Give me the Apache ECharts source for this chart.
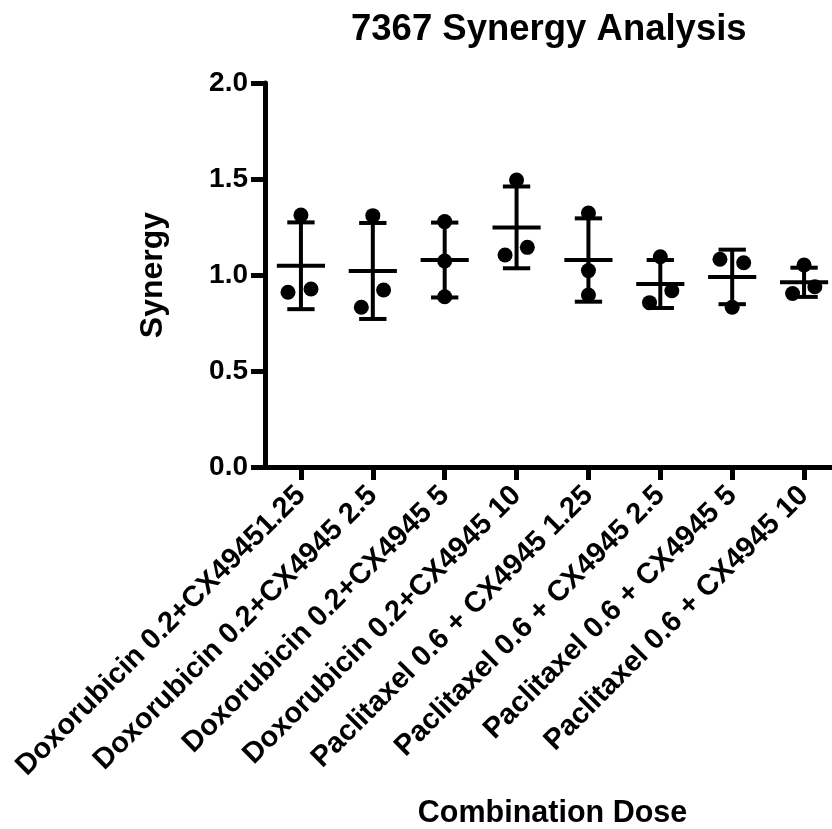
<!DOCTYPE html>
<html><head><meta charset="utf-8">
<script src="https://cdn.jsdelivr.net/npm/echarts@6/dist/echarts.min.js"></script>
<style>html,body{margin:0;padding:0;background:#fff}#c{width:832px;height:829px}</style>
</head><body><div id="c"></div>
<script>
// ---- data ----
const categories = [
  'Doxorubicin 0.2+CX49451.25',
  'Doxorubicin 0.2+CX4945 2.5',
  'Doxorubicin 0.2+CX4945 5',
  'Doxorubicin 0.2+CX4945 10',
  'Paclitaxel 0.6 + CX4945 1.25',
  'Paclitaxel 0.6 + CX4945 2.5',
  'Paclitaxel 0.6 + CX4945 5',
  'Paclitaxel 0.6 + CX4945 10'
];
// three replicate measurements per combination
const replicateA = [1.312, 1.309, 1.278, 1.495, 1.323, 1.095, 0.832, 1.052];
const replicateB = [0.910, 0.832, 1.073, 1.104, 1.023, 0.856, 1.082, 0.904];
const replicateC = [0.927, 0.922, 0.887, 1.144, 0.896, 0.918, 1.064, 0.939];
// horizontal scatter of the replicate dots (fraction of category width)
const jitterA = [0, 0, 0, 0, 0, 0, 0, 0];
const jitterB = [-0.18, -0.16, 0, -0.16, 0, -0.15, -0.17, -0.16];
const jitterC = [0.14, 0.15, 0, 0.15, 0, 0.16, 0.16, 0.15];
// mean and standard deviation shown by the bars
const means = [1.048, 1.021, 1.078, 1.248, 1.078, 0.953, 0.990, 0.962];
const sds   = [0.226, 0.250, 0.195, 0.213, 0.217, 0.125, 0.142, 0.076];
const yTicks = [0, 0.5, 1.0, 1.5, 2.0];

const FONT = '"Liberation Sans", Arial, sans-serif';

const dotData = [];
categories.forEach((c, i) => {
  dotData.push([i, replicateA[i], jitterA[i]]);
  dotData.push([i, replicateB[i], jitterB[i]]);
  dotData.push([i, replicateC[i], jitterC[i]]);
});
const barData = categories.map((c, i) => [i, means[i], sds[i]]);

const chart = echarts.init(document.getElementById('c'), null, {renderer: 'canvas'});
chart.setOption({
  animation: false,
  backgroundColor: '#fff',
  title: {
    text: '7367 Synergy Analysis',
    left: 346, top: 6,
    textStyle: {fontFamily: FONT, fontWeight: 'bold', fontSize: 36.5, color: '#000'}
  },
  grid: {left: 265, top: 83, width: 575, height: 384, containLabel: false, outerBoundsMode: 'none'},
  xAxis: {
    type: 'category',
    data: categories,
    boundaryGap: true,
    name: 'Combination Dose',
    nameLocation: 'middle',
    nameGap: 331,
    nameTextStyle: {fontFamily: FONT, fontWeight: 'bold', fontSize: 30.5, color: '#000'},
    axisLine: {show: true, lineStyle: {color: '#000', width: 5}},
    axisTick: {show: true, alignWithLabel: true, length: 13, lineStyle: {color: '#000', width: 5}},
    axisLabel: {
      interval: 0, rotate: 45, margin: 24,
      fontFamily: FONT, fontWeight: 'bold', fontSize: 29, color: '#000'
    },
    splitLine: {show: false}
  },
  yAxis: {
    type: 'value',
    min: yTicks[0], max: yTicks[yTicks.length - 1], interval: 0.5,
    name: 'Synergy',
    nameLocation: 'middle',
    nameRotate: 90,
    nameGap: 96,
    nameTextStyle: {fontFamily: FONT, fontWeight: 'bold', fontSize: 32, color: '#000'},
    axisLine: {show: true, onZero: false, lineStyle: {color: '#000', width: 5}},
    axisTick: {show: true, length: 14, lineStyle: {color: '#000', width: 5}},
    axisLabel: {
      margin: 17,
      formatter: v => v.toFixed(1),
      fontFamily: FONT, fontWeight: 'bold', fontSize: 28, color: '#000'
    },
    splitLine: {show: false}
  },
  series: [
    {
      type: 'custom',
      name: 'Mean ± SD',
      data: barData,
      clip: false,
      z: 3,
      renderItem(params, api) {
        const x = api.value(0), m = api.value(1), s = api.value(2);
        const band = api.size([1, 0])[0];
        const pm = api.coord([x, m]);
        const pt = api.coord([x, m + s]);
        const pb = api.coord([x, m - s]);
        const cap = band * 0.19, mh = band * 0.335;
        const style = {stroke: '#000', lineWidth: 4};
        return {
          type: 'group',
          children: [
            {type: 'line', shape: {x1: pt[0], y1: pt[1], x2: pb[0], y2: pb[1]}, style},
            {type: 'line', shape: {x1: pt[0] - cap, y1: pt[1], x2: pt[0] + cap, y2: pt[1]}, style},
            {type: 'line', shape: {x1: pb[0] - cap, y1: pb[1], x2: pb[0] + cap, y2: pb[1]}, style},
            {type: 'line', shape: {x1: pm[0] - mh, y1: pm[1], x2: pm[0] + mh, y2: pm[1]}, style}
          ]
        };
      }
    },
    {
      type: 'custom',
      name: 'Replicates',
      data: dotData,
      clip: false,
      z: 4,
      renderItem(params, api) {
        const x = api.value(0), v = api.value(1), j = api.value(2);
        const band = api.size([1, 0])[0];
        const p = api.coord([x, v]);
        return {type: 'circle', shape: {cx: p[0] + j * band, cy: p[1], r: 7.5}, style: {fill: '#000'}};
      }
    }
  ]
});
</script>
</body></html>
